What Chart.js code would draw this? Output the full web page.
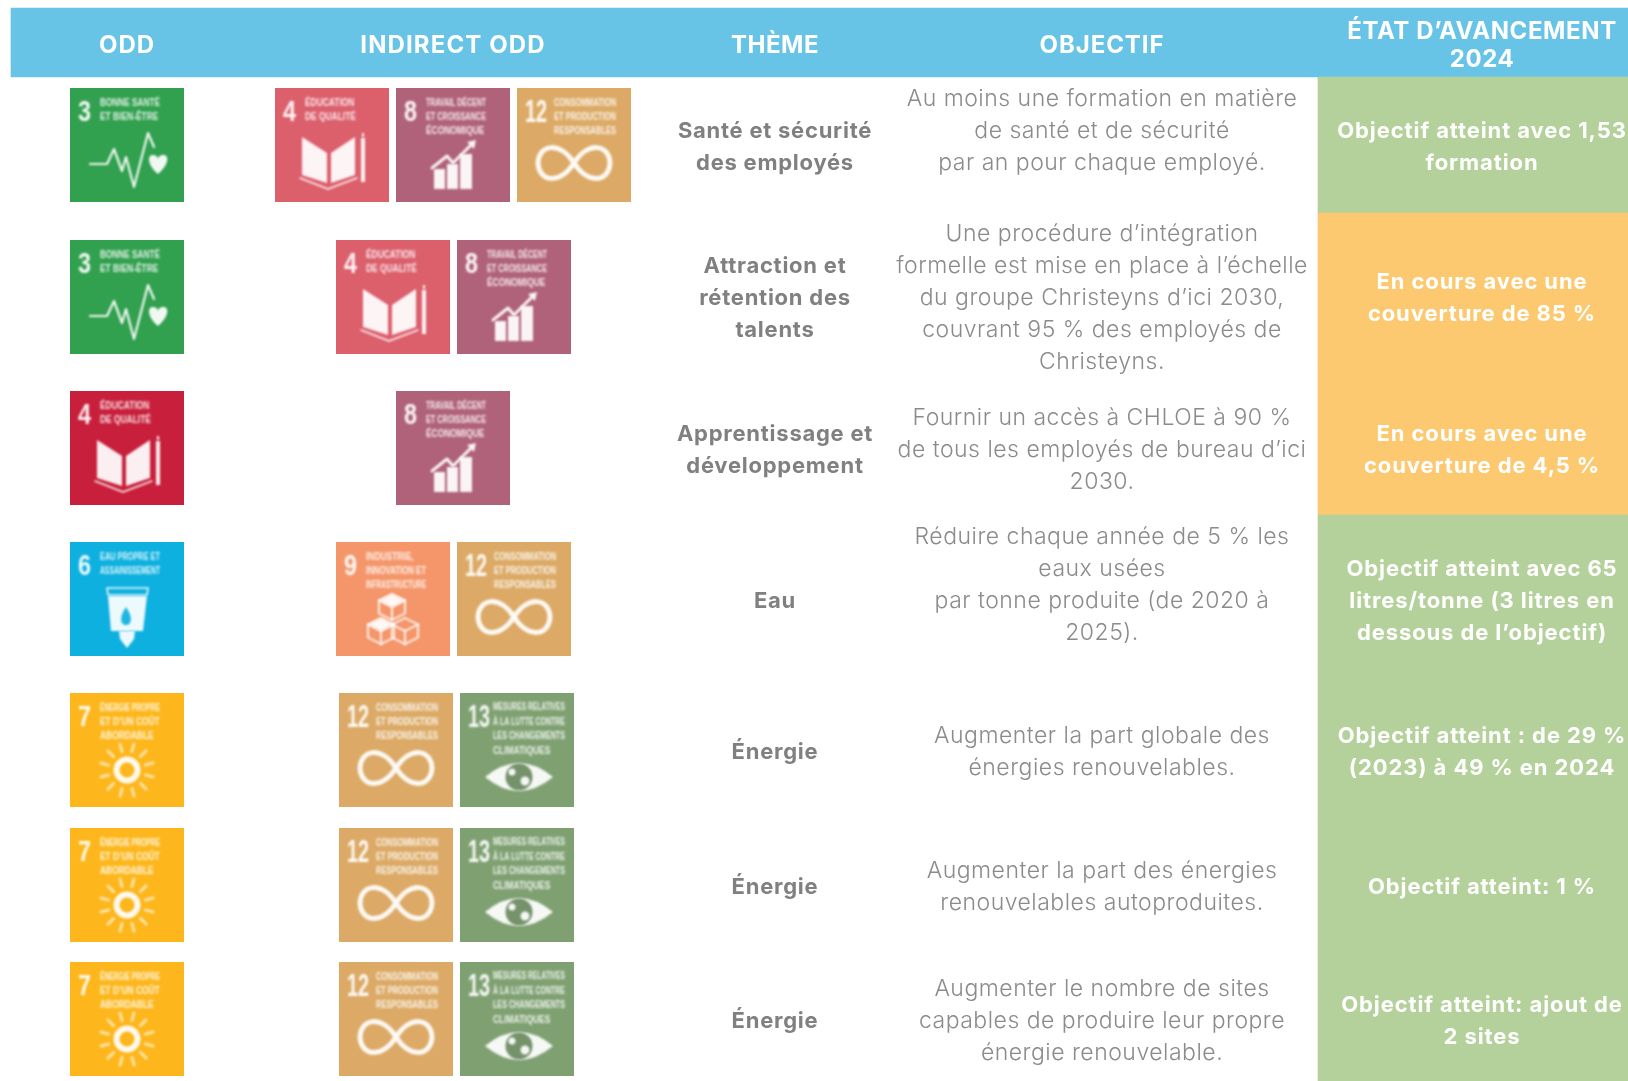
<!DOCTYPE html>
<html lang="fr"><head><meta charset="utf-8"><title>ODD</title>
<style>html,body{margin:0;padding:0;background:#fff}canvas{display:block}</style>
<script src="https://cdn.jsdelivr.net/npm/chart.js@4"></script></head><body>
<canvas id="c" width="1628" height="1081"></canvas>
<script>
// ---- content ----
const headers = ["ODD","INDIRECT ODD","THÈME","OBJECTIF","ÉTAT D’AVANCEMENT\n2024"];
const odd = [3,3,4,6,7,7,7];
const indirectOdd = [[4,8,12],[4,8],[8],[9,12],[12,13],[12,13],[12,13]];
const themes = ["Santé et sécurité\ndes employés","Attraction et\nrétention des\ntalents","Apprentissage et\ndéveloppement","Eau","Énergie","Énergie","Énergie"];
const objectives = [
 "Au moins une formation en matière\nde santé et de sécurité\npar an pour chaque employé.",
 "Une procédure d’intégration\nformelle est mise en place à l’échelle\ndu groupe Christeyns d’ici 2030,\ncouvrant 95 % des employés de\nChristeyns.",
 "Fournir un accès à CHLOE à 90 %\nde tous les employés de bureau d’ici\n2030.",
 "Réduire chaque année de 5 % les\neaux usées\npar tonne produite (de 2020 à\n2025).",
 "Augmenter la part globale des\nénergies renouvelables.",
 "Augmenter la part des énergies\nrenouvelables autoproduites.",
 "Augmenter le nombre de sites\ncapables de produire leur propre\nénergie renouvelable."];
const statusTexts = ["Objectif atteint avec 1,53\nformation","En cours avec une\ncouverture de 85 %","En cours avec une\ncouverture de 4,5 %","Objectif atteint avec 65\nlitres/tonne (3 litres en\ndessous de l’objectif)","Objectif atteint : de 29 %\n(2023) à 49 % en 2024","Objectif atteint: 1 %","Objectif atteint: ajout de\n2 sites"];
const statusStates = ["done","progress","progress","done","done","done","done"];
const goalTitles = {3:"BONNE SANTÉ\nET BIEN-ÊTRE",4:"ÉDUCATION\nDE QUALITÉ",6:"EAU PROPRE ET\nASSAINISSEMENT",7:"ÉNERGIE PROPRE\nET D’UN COÛT\nABORDABLE",8:"TRAVAIL DÉCENT\nET CROISSANCE\nÉCONOMIQUE",9:"INDUSTRIE,\nINNOVATION ET\nINFRASTRUCTURE",12:"CONSOMMATION\nET PRODUCTION\nRESPONSABLES",13:"MESURES RELATIVES\nÀ LA LUTTE CONTRE\nLES CHANGEMENTS\nCLIMATIQUES"};

// ---- layout & style ----
const W=1628,H=1081,TILE=114,GAP=7;
const colX={odd:127,ind:453,theme:775,obj:1102,status:1482};
const rowBands=[77,213,364,515,667,817,952,1081];
const tileY=[145,297,448,599,750,885,1019];
const tileShift=[0,0,0,0,3,3,3];
const themeY=[147.5,298.5,450.5,601.5,752.5,887.5,1021.5];
const objY=[131.5,298.5,450.5,585.5,752.5,887.5,1021.5];
const statusY=[147.5,298,450.5,601.5,752.5,887.5,1021.5];
const headY=46,LH=32;
const C={head:"#68c4e7",done:"#b5d19b",progress:"#fcc971",body:"#8b8b8b",theme:"#808080"};
const goalColor={3:"#31a04f",4:"#dc5f6c",6:"#0db0df",7:"#fdb71c",8:"#b0627a",9:"#f5966a",12:"#dcaa66",13:"#7fa172"};
const directColor={4:"#c8203c"};
const headSpacing=["0.9px","1.1px","0.5px","0.9px","0.6px"];

function path(g,pts){g.beginPath();pts.forEach((p,i)=>i?g.lineTo(p[0],p[1]):g.moveTo(p[0],p[1]));}
const icons={
 3(g){g.lineWidth=2.2;path(g,[[20,76],[37,76],[44,61],[52,83],[56,69],[64,99],[78,45],[84,59]]);g.stroke();
   g.beginPath();g.moveTo(88,86);g.bezierCurveTo(76,76,78,66,83,67);g.bezierCurveTo(86,67,88,69,88,71);g.bezierCurveTo(88,69,90,67,93,67);g.bezierCurveTo(99,66,100,76,88,86);g.fill();},
 4(g){path(g,[[27,49],[52,65],[52,95],[27,87]]);g.closePath();g.fill();path(g,[[56,65],[80,49],[80,87],[56,95]]);g.closePath();g.fill();
   g.fillRect(86,50,4,44);g.fillRect(87,45,2,4);g.lineWidth=1.4;path(g,[[25,90],[53,101],[82,90]]);g.stroke();},
 6(g){g.lineWidth=1.6;path(g,[[37,46],[78,46],[77,53],[38,53]]);g.closePath();g.stroke();
   path(g,[[38,54],[77,54],[73,89],[41,89]]);g.closePath();g.fill();path(g,[[49,89],[65,89],[64,97],[57,106],[50,97]]);g.closePath();g.fill();
   g.save();g.fillStyle="#0db0df";g.beginPath();g.moveTo(56,65);g.bezierCurveTo(49,75,50,83,56,83);g.bezierCurveTo(62,83,63,75,56,65);g.fill();g.restore();},
 7(g){g.beginPath();g.arc(57,77,10.5,0,7);g.lineWidth=6;g.stroke();g.lineWidth=3;
   g.save();g.globalAlpha=.6;
   for(let i=0;i<12;i++){const a=i*Math.PI/6+.26;g.beginPath();g.moveTo(57+Math.cos(a)*19,77+Math.sin(a)*19);g.lineTo(57+Math.cos(a)*27,77+Math.sin(a)*27);g.stroke();}
   g.restore();},
 8(g){g.lineWidth=3;path(g,[[36,80],[51,68],[57,75],[75,57]]);g.stroke();path(g,[[71,54],[80,52],[78,61]]);g.closePath();g.fill();
   g.fillRect(38,81,11,20);g.fillRect(51,76,11,25);g.fillRect(64,66,12,35);},
 9(g){g.lineWidth=1.8;const cube=(x,y,s,f)=>{path(g,[[x,y-s],[x+s,y-s/2],[x+s,y+s/2],[x,y+s],[x-s,y+s/2],[x-s,y-s/2]]);g.closePath();g.stroke();path(g,[[x-s,y-s/2],[x,y],[x+s,y-s/2]]);g.stroke();path(g,[[x,y],[x,y+s]]);g.stroke();if(f){path(g,[[x,y-s],[x+s,y-s/2],[x,y],[x-s,y-s/2]]);g.closePath();g.fill();}};
   cube(56,65,13,true);cube(45,89,13,true);cube(69,89,13,false);},
 12(g){g.lineWidth=5;g.beginPath();g.moveTo(57,75);g.bezierCurveTo(43,53,22,56,21,75);g.bezierCurveTo(22,94,43,97,57,75);g.bezierCurveTo(71,53,92,56,93,75);g.bezierCurveTo(92,94,71,97,57,75);g.stroke();},
 13(g){g.beginPath();g.moveTo(25,84);g.quadraticCurveTo(59,56,93,84);g.quadraticCurveTo(59,112,25,84);g.fill();
   g.save();g.fillStyle="#6a8a60";g.beginPath();g.arc(59,84,13.5,0,7);g.fill();g.fillStyle="#fff";g.beginPath();g.arc(65,88,4.5,0,7);g.fill();g.beginPath();g.arc(52,79,3.5,0,7);g.fill();g.restore();}
};
function makeTile(n,color){
 const cv=document.createElement("canvas");cv.width=TILE;cv.height=TILE;
 const g=cv.getContext("2d");
 g.fillStyle=color;g.fillRect(0,0,TILE,TILE);
 g.fillStyle="#fff";g.strokeStyle="#fff";g.lineCap="round";g.lineJoin="round";
 g.globalAlpha=.92;g.filter="blur(0.8px)";
 const two=n>=10;
 g.save();g.translate(two?8:8,two?34:33);g.scale(two?.62:.78,1);g.font=(two?"700 32px":"700 30px")+" 'Liberation Sans'";g.fillText(String(n),0,0);g.restore();
 g.filter="blur(1.1px)";g.globalAlpha=.85;
 const tx=n===13?33:(two?37:30);
 goalTitles[n].split("\n").forEach((l,i)=>{
   g.save();g.translate(tx,n===13?17+i*14.5:17.5+i*14);
   g.font="700 10.5px 'Liberation Sans'";
   const w=g.measureText(l).width,maxW=n===13?72:(two?62:60);
   g.scale(Math.min(maxW/w,.8),1);g.fillText(l,0,0);g.restore();
 });
 g.filter="blur(1px)";g.globalAlpha=.93;
 icons[n](g);
 return cv;
}
const tiles={};Object.keys(goalColor).forEach(k=>tiles[k]=makeTile(+k,goalColor[k]));
const directTiles={};Object.keys(directColor).forEach(k=>directTiles[k]=makeTile(+k,directColor[k]));

// ---- marks ----
const tilePts=[];
odd.forEach((n,i)=>tilePts.push({x:colX.odd,y:tileY[i],tile:directTiles[n]||tiles[n]}));
indirectOdd.forEach((list,i)=>{
 const total=list.length*TILE+(list.length-1)*GAP;
 list.forEach((n,j)=>tilePts.push({x:Math.ceil(colX.ind+tileShift[i]-total/2+TILE/2+j*(TILE+GAP)),y:tileY[i],tile:tiles[n]}));
});
const statusX=(1318+W)/2,statusW=W-1318;
const statusBars=statusStates.map((s,i)=>({x:statusX,y:[rowBands[i],rowBands[i+1]]}));

function fontFor(kind){return {head:"700 24px Inter",theme:"700 22px Inter",status:"700 22px Inter",obj:"300 23px Inter"}[kind];}
const textPlugin={id:"tableText",afterDatasetsDraw(ch){
 const {ctx:g,scales:{x,y}}=ch;
 const put=(txt,cx,cy,kind,color,lh,ls)=>{
  const lines=txt.split("\n");
  g.save();g.font=fontFor(kind);g.fillStyle=color;g.textAlign="center";g.textBaseline="middle";g.letterSpacing=ls;
  lines.forEach((l,i)=>g.fillText(l,x.getPixelForValue(cx),y.getPixelForValue(cy+(i-(lines.length-1)/2)*lh)));
  g.restore();
 };
 const hx=[colX.odd,colX.ind,colX.theme,colX.obj,colX.status];
 headers.forEach((h,i)=>put(h,hx[i],headY,"head","#fff",28,headSpacing[i]));
 themes.forEach((t,i)=>put(t,colX.theme,themeY[i],"theme",C.theme,LH,"0.75px"));
 objectives.forEach((t,i)=>put(t,colX.obj,objY[i],"obj",C.body,LH,"0.5px"));
 statusTexts.forEach((t,i)=>put(t,colX.status,statusY[i],"status","#fff",LH,"0.9px"));
}};

new Chart(document.getElementById("c"),{
 type:"bar",
 data:{datasets:[
  {label:"En-tête",data:[{x:(11+W)/2,y:[8,77]}],backgroundColor:C.head,barThickness:W-11,grouped:false,order:3},
  {label:"État",data:statusBars,backgroundColor:statusStates.map(s=>C[s]),barThickness:statusW,grouped:false,order:2},
  {type:"scatter",label:"ODD",data:tilePts,pointStyle:c=>c.raw.tile,pointRadius:10,order:1}
 ]},
 options:{responsive:false,animation:false,events:[],layout:{padding:0,autoPadding:false},
  plugins:{legend:{display:false},tooltip:{enabled:false}},
  scales:{x:{type:"linear",min:0,max:W,display:false,offset:false},y:{type:"linear",min:0,max:H,reverse:true,display:false}}},
 plugins:[textPlugin]
});
</script></body></html>
